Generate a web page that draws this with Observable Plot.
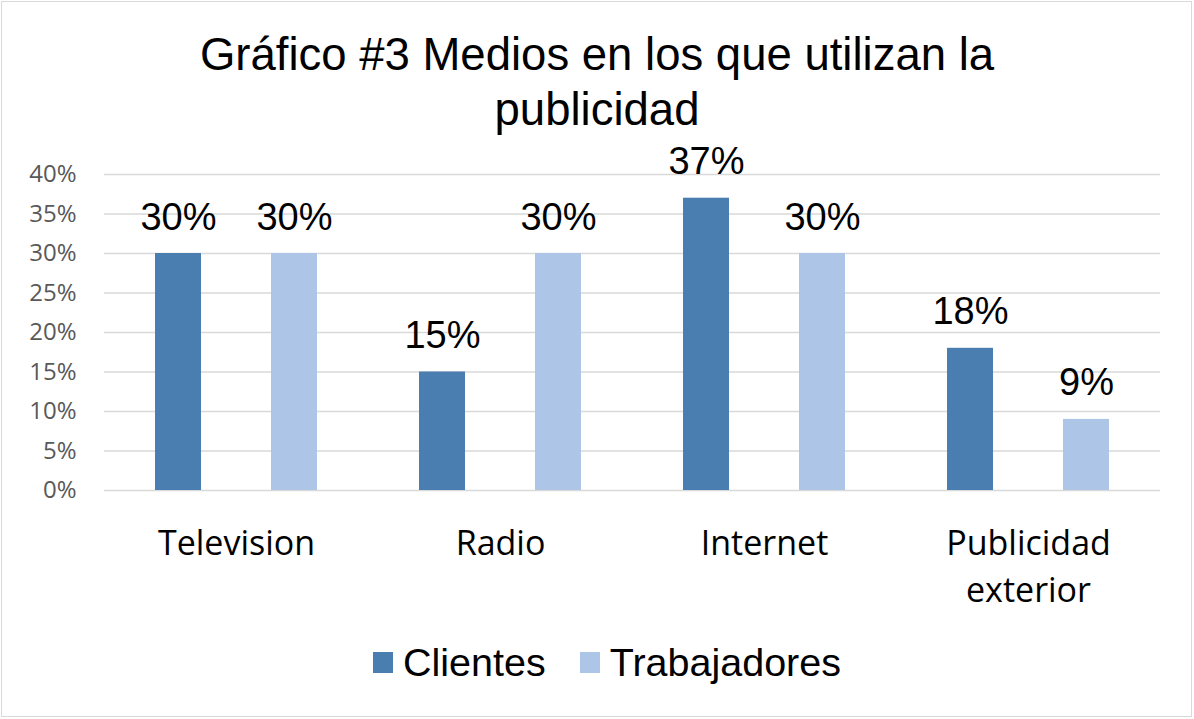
<!DOCTYPE html>
<html><head><meta charset="utf-8">
<script src="https://cdn.jsdelivr.net/npm/d3@7"></script>
<script src="https://cdn.jsdelivr.net/npm/@observablehq/plot@0.6"></script>
<style>
body{margin:0;background:#fff;}
#chart{position:relative;width:1194px;height:719px;overflow:hidden;background:#fff;}
#frame{position:absolute;left:1px;top:1px;width:1191px;height:716px;border:1.5px solid #d9d9d9;box-sizing:border-box;}
#title{position:absolute;left:0;top:27px;width:1194px;text-align:center;font-family:"Liberation Sans",Arial,sans-serif;font-size:45.5px;line-height:55px;color:#000;}
#plot{position:absolute;left:0;top:0;}
#legend{position:absolute;left:373px;top:643px;display:flex;align-items:center;font-family:"Liberation Sans",Arial,sans-serif;font-size:39.5px;line-height:39px;color:#000;}
.item{display:flex;align-items:center;margin-right:34px;}
.sw{width:20px;height:21px;margin-right:10px;}
</style></head>
<body>
<div id="chart">
  <div id="frame"></div>
  <div id="plot"></div>
  <div id="title"></div>
  <div id="legend"></div>
</div>
<script>
const titleLines = ["Gráfico #3 Medios en los que utilizan la", "publicidad"];
const categories = ["Television", "Radio", "Internet", "Publicidad exterior"];
const categoryLabels = ["Television", "Radio", "Internet", "Publicidad\nexterior"];
const series = ["Clientes", "Trabajadores"];
const clientes = [30, 15, 37, 18];
const trabajadores = [30, 30, 30, 9];
const seriesColors = ["#4a7db0", "#adc5e6"];
const yTicks = [0, 5, 10, 15, 20, 25, 30, 35, 40];

const table = [];
categories.forEach((c, i) => {
  table.push({category: c, serie: series[0], value: clientes[i]});
  table.push({category: c, serie: series[1], value: trabajadores[i]});
});
const labelData = categories.map((c, i) => ({category: c, label: categoryLabels[i]}));

document.getElementById("title").innerHTML = titleLines.join("<br>");

const chart = Plot.plot({
  width: 1194,
  height: 640,
  marginTop: 174,
  marginBottom: 150,
  marginLeft: 103,
  marginRight: 34,
  style: {background: "transparent", overflow: "visible"},
  fx: {domain: categories, padding: 0, axis: null},
  x: {domain: series, paddingInner: 0.6, paddingOuter: 0.43, axis: null},
  y: {domain: [0, 40], axis: null},
  color: {domain: series, range: seriesColors},
  marks: [
    Plot.ruleY(yTicks, {stroke: "#d9d9d9", strokeWidth: 1.4}),
    Plot.barY(table, {fx: "category", x: "serie", y: "value", fill: "serie"}),
    Plot.text(table, {fx: "category", x: "serie", y: "value", text: d => d.value + "%",
      lineAnchor: "bottom", dy: -24, fontSize: 38, fill: "#000",
      fontFamily: "Liberation Sans, Arial, sans-serif"}),
    Plot.text(labelData, {fx: "category", text: "label", frameAnchor: "bottom",
      lineAnchor: "top", lineHeight: 1.41, dy: 30, fontSize: 34, fill: "#000",
      fontFamily: "Open Sans, sans-serif"}),
    Plot.axisY(yTicks, {facetAnchor: "left", anchor: "left", tickSize: 0, tickPadding: 28,
      tickFormat: d => d + "%", fontSize: 24, fill: "#595959",
      fontFamily: "Open Sans, sans-serif", label: null})
  ]
});
document.getElementById("plot").appendChild(chart);

const legend = document.getElementById("legend");
series.forEach((s, i) => {
  const item = document.createElement("div");
  item.className = "item";
  const sw = document.createElement("div");
  sw.className = "sw";
  sw.style.background = seriesColors[i];
  const t = document.createElement("span");
  t.textContent = s;
  item.appendChild(sw); item.appendChild(t);
  legend.appendChild(item);
});
</script>
</body></html>
